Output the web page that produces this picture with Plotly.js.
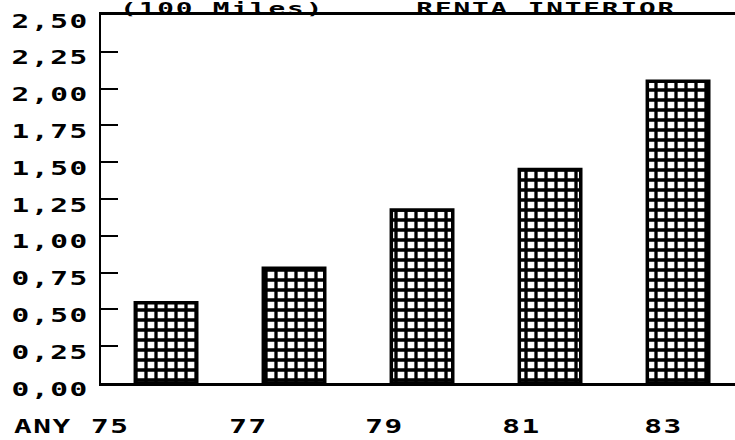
<!DOCTYPE html>
<html>
<head>
<meta charset="utf-8">
<script src="https://cdn.plot.ly/plotly-3.0.1.min.js"></script>
<style>
html, body { margin: 0; padding: 0; background: #fff; }
#chart { width: 735px; height: 440px; }
svg text { letter-spacing: 1px; }
</style>
</head>
<body>
<div id="chart"></div>
<script>
// Data
const years = ['75', '77', '79', '81', '83'];
const values = [0.545, 0.78, 1.175, 1.45, 2.05];
const yTicks = [0, 0.25, 0.5, 0.75, 1, 1.25, 1.5, 1.75, 2, 2.25, 2.5];
const yTickText = ['0,00', '0,25', '0,50', '0,75', '1,00', '1,25', '1,50', '1,75', '2,00', '2,25', '2,50'];
const xLabels = ['ANY 75', '77', '79', '81', '83'];
const titleLeft = '(100 Miles)';
const titleRight = 'RENTA INTERIOR';

// label placement (paper coords) — styling only
const labelPos = [-0.139, 0.232, 0.447, 0.663, 0.887];
const labelAnchor = ['left', 'center', 'center', 'center', 'center'];
const SX = 1.55;   // horizontal stretch of the wide pixel font
const SXT = 1.85;  // stretch for the (smaller) header texts

const FONT = { family: 'DejaVu Sans Mono', size: 19, color: '#000', weight: 'bold' };
const TFONT = { family: 'DejaVu Sans Mono', size: 15, color: '#000', weight: 'bold' };

const trace = {
  type: 'bar',
  x: years,
  y: values,
  width: 0.48,
  marker: {
    color: '#ffffff',
    line: { color: '#000', width: 3.5 },
    pattern: { shape: '+', size: 10, solidity: 0.55, fgcolor: '#000', bgcolor: '#fff', fillmode: 'replace' }
  },
  hoverinfo: 'skip'
};

const annotations = xLabels.map((t, i) => ({
  text: t, xref: 'paper', yref: 'paper', x: labelPos[i], y: -0.118,
  xanchor: labelAnchor[i], align: labelAnchor[i], yanchor: 'middle',
  showarrow: false, borderpad: 0, font: FONT
}));
annotations.push({
  text: titleLeft, xref: 'paper', yref: 'paper', x: 0.191, y: 1.0,
  xanchor: 'center', yanchor: 'bottom', yshift: -4, showarrow: false, borderpad: 0, font: TFONT
});
annotations.push({
  text: titleRight, xref: 'paper', yref: 'paper', x: 0.702, y: 1.0,
  xanchor: 'center', yanchor: 'bottom', yshift: -4, showarrow: false, borderpad: 0, font: TFONT
});

const layout = {
  width: 735, height: 440,
  margin: { l: 101, r: 0, t: 15, b: 57 },
  paper_bgcolor: '#fff', plot_bgcolor: '#fff',
  showlegend: false,
  font: FONT,
  xaxis: {
    type: 'category',
    range: [-0.508, 4.445],
    showticklabels: false,
    ticks: '',
    showgrid: false, zeroline: false,
    showline: true, mirror: true, linecolor: '#000', linewidth: 3
  },
  yaxis: {
    range: [0, 2.5],
    tickmode: 'array', tickvals: yTicks, ticktext: yTickText,
    ticks: 'inside', ticklen: 17, tickwidth: 2, tickcolor: '#000',
    ticklabelshift: 6,
    ticklabelstandoff: 6,
    showgrid: false, zeroline: false,
    showline: true, linecolor: '#000', linewidth: 2.5,
    tickfont: FONT
  },
  annotations: annotations
};

function stretchText() {
  document.querySelectorAll('#chart svg text').forEach(t => {
    const txt = t.textContent.trim();
    if (!txt) return;
    const s = (txt === titleLeft || txt === titleRight) ? SXT : SX;
    const bb = t.getBBox();
    const anchor = t.getAttribute('text-anchor') || getComputedStyle(t).textAnchor;
    let cx;
    if (anchor === 'end') cx = bb.x + bb.width;
    else if (anchor === 'start') cx = bb.x;
    else cx = bb.x + bb.width / 2;
    const tr = t.getAttribute('transform') || '';
    t.setAttribute('transform', tr + ' translate(' + cx + ',0) scale(' + s + ',1) translate(' + (-cx) + ',0)');
  });
}

Plotly.newPlot('chart', [trace], layout, { staticPlot: true, displayModeBar: false }).then(stretchText);
</script>
</body>
</html>
